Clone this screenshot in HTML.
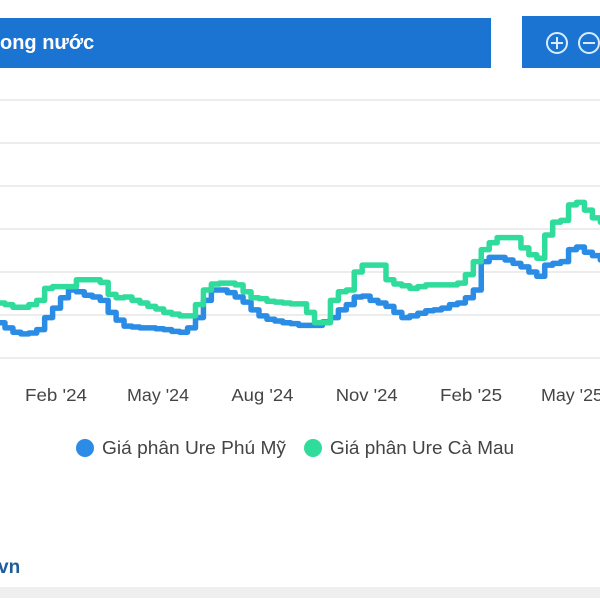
<!DOCTYPE html>
<html><head><meta charset="utf-8"><style>
html,body{margin:0;padding:0;background:#fff;}
body{width:600px;height:600px;position:relative;overflow:hidden;font-family:"Liberation Sans",sans-serif;}
#hdr{position:absolute;left:0;top:18px;width:491px;height:50px;background:#1b74d2;color:#fff;font-weight:bold;font-size:20px;line-height:50px;box-sizing:border-box;}
#zoombox{position:absolute;left:522px;top:16px;width:90px;height:52px;background:#1b74d2;}
#src{position:absolute;left:-2px;top:557px;font-weight:bold;font-size:19px;color:#1f5c9e;}
#band{position:absolute;left:0;top:587px;width:600px;height:11px;background:#efefef;}
</style></head><body>
<div id="hdr">ong nước</div>
<div id="zoombox">
<svg width="90" height="52">
<g fill="none" stroke="#d8ecff" stroke-width="2"><circle cx="35" cy="27" r="10"/><path d="M29 27h12M35 21v12"/></g>
<g fill="none" stroke="#d8ecff" stroke-width="2"><circle cx="67" cy="27" r="10"/><path d="M61 27h12"/></g>
</svg></div>
<svg id="chart" width="600" height="480" style="position:absolute;left:0;top:0"></svg>
<div id="src">vn</div>
<div id="band"></div>
<script>
const startDate = "2023-12-11";
const weekCount = 77;
const phuMy = [8910,8850,8800,8780,8790,8830,8970,9080,9200,9290,9270,9230,9210,9170,9030,8940,8870,8860,8850,8850,8840,8830,8810,8800,8850,8970,9170,9290,9290,9260,9210,9150,9060,8990,8950,8930,8910,8900,8880,8880,8880,8920,8970,9060,9120,9210,9220,9170,9140,9100,9030,8970,8990,9020,9050,9060,9080,9120,9140,9200,9290,9620,9670,9670,9640,9600,9560,9500,9450,9580,9600,9620,9760,9790,9730,9690,9640];
const caMau = [9140,9120,9090,9090,9120,9170,9310,9330,9330,9330,9410,9410,9410,9380,9240,9200,9210,9170,9140,9100,9070,9030,9010,8990,8990,9120,9290,9360,9370,9370,9350,9270,9200,9190,9160,9150,9140,9130,9130,9030,8910,8910,9170,9270,9290,9500,9580,9580,9580,9410,9360,9340,9310,9330,9350,9350,9350,9350,9370,9470,9620,9760,9840,9900,9900,9900,9780,9700,9660,9930,10080,10100,10280,10310,10220,10130,10080];
const tickDates = ["2024-02-01","2024-05-01","2024-08-01","2024-11-01","2025-02-01","2025-05-01"];
const tickLabels = ["Feb '24","May '24","Aug '24","Nov '24","Feb '25","May '25"];
const gridValues = [8500,9000,9500,10000,10500,11000,11500];

const NS="http://www.w3.org/2000/svg";
const svg=document.getElementById('chart');
const DAY=86400000, t0=Date.parse("2024-02-01"), pxDay=1.134;
function xDate(s){return 56+(Date.parse(s)-t0)/DAY*pxDay;}
function xWeek(i){return xDate(startDate)+i*7*pxDay;}
function yVal(v){return 358-(v-8500)/500*43;}
function mk(tag,attrs){const e=document.createElementNS(NS,tag);for(const k in attrs)e.setAttribute(k,attrs[k]);svg.appendChild(e);return e;}

gridValues.forEach(v=>{
  const l=mk('line',{x1:0,x2:600,y1:yVal(v),y2:yVal(v),stroke:'#ececec','stroke-width':2});
  
  
});
tickDates.forEach((d,i)=>{
  const t=mk('text',{x:xDate(d),y:401,'text-anchor':'middle','font-size':17.5,fill:'#444','font-family':'Liberation Sans, sans-serif',textLength:62,lengthAdjust:'spacingAndGlyphs'});
  t.textContent=tickLabels[i];
  
  
});
function stepPath(vals){
  let d='';
  vals.forEach((v,i)=>{const x=xWeek(i),y=yVal(v);
    if(i===0)d+='M'+x+' '+y;else d+='H'+x+'V'+y;});
  return d+'H'+(xWeek(vals.length-1)+8);
}
const pb=mk('path',{d:stepPath(phuMy),fill:'none',stroke:'#2b8ce6','stroke-width':5.5,'stroke-linejoin':'round'});


const pg=mk('path',{d:stepPath(caMau),fill:'none',stroke:'#2fdc9c','stroke-width':5.5,'stroke-linejoin':'round'});



const legend=[["Giá phân Ure Phú Mỹ","#2b8ce6",85],["Giá phân Ure Cà Mau","#2fdc9c",313]];
legend.forEach(([label,color,cx])=>{
  const g=document.createElementNS(NS,'g');svg.appendChild(g);
  
  
  const c=document.createElementNS(NS,'circle');c.setAttribute('cx',cx);c.setAttribute('cy',448);c.setAttribute('r',9);c.setAttribute('fill',color);g.appendChild(c);
  
  
  const t=document.createElementNS(NS,'text');t.setAttribute('x',cx+17);t.setAttribute('y',454);t.setAttribute('font-size',18);t.setAttribute('fill','#444');t.setAttribute('font-family','Liberation Sans, sans-serif');t.setAttribute('textLength',184);t.setAttribute('lengthAdjust','spacingAndGlyphs');t.textContent=label;g.appendChild(t);
  
  
});
</script>
</body></html>
